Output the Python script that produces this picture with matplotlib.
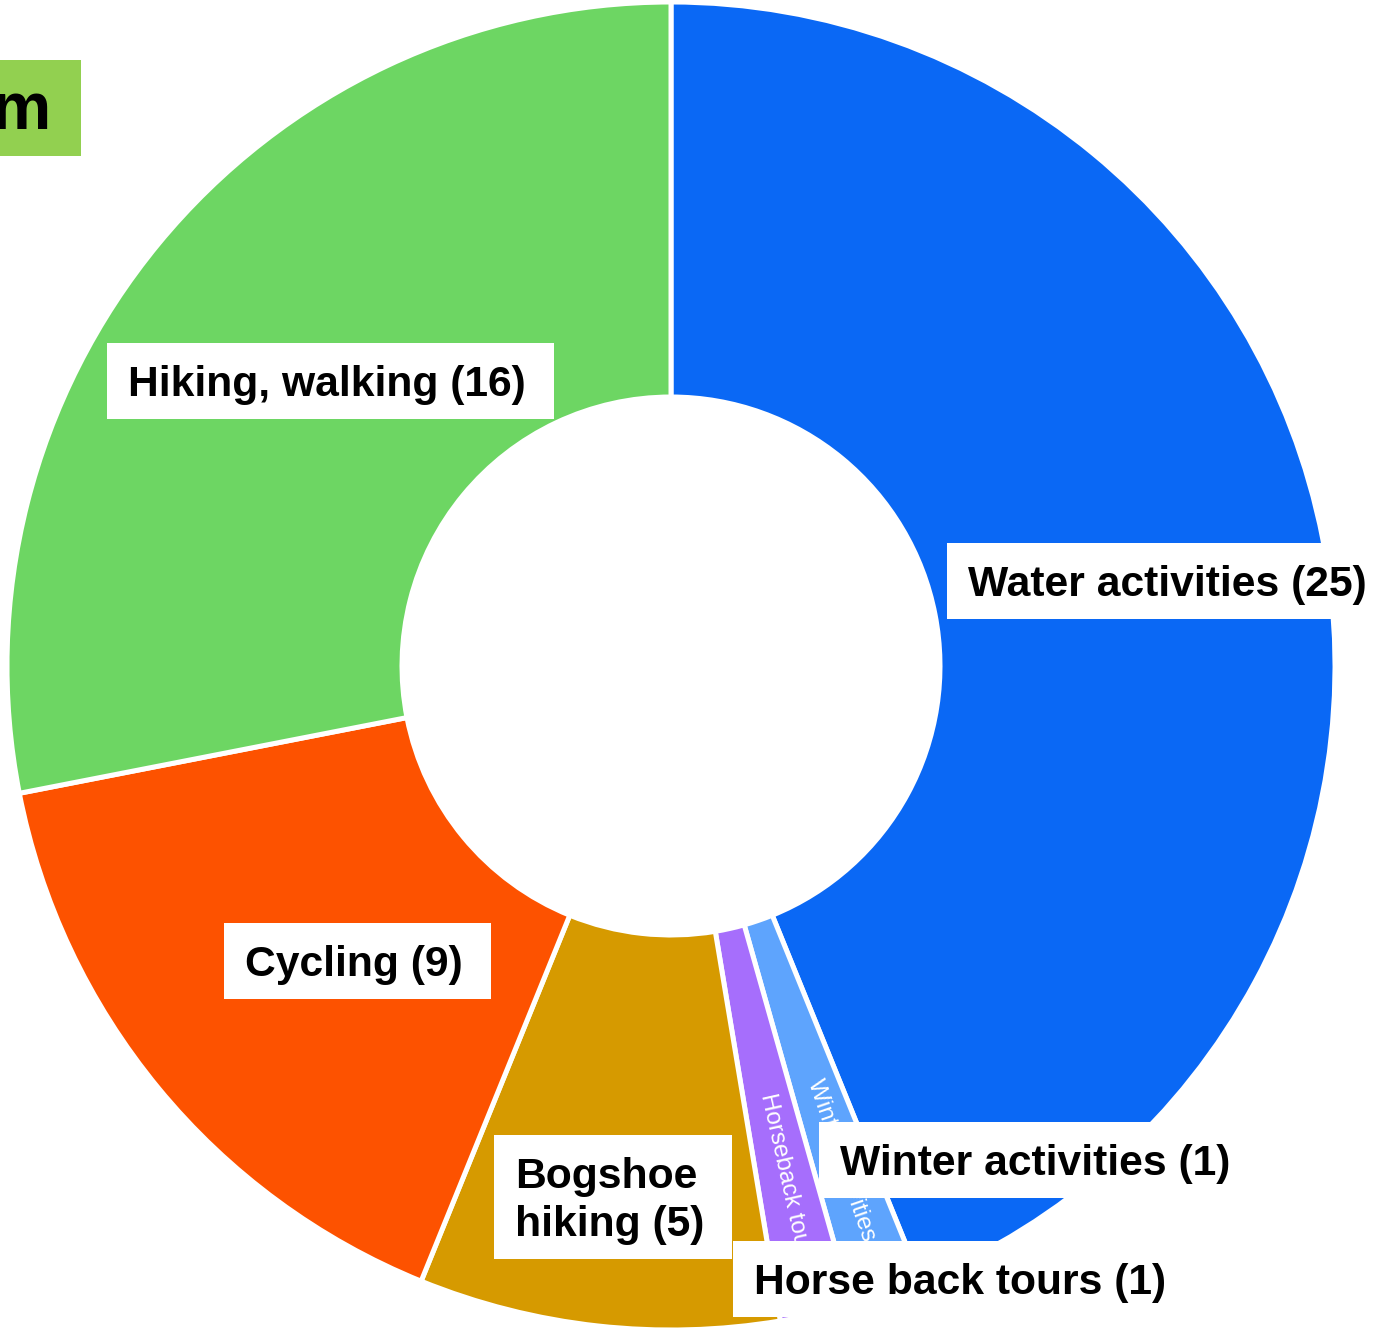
import numpy as np
import matplotlib.pyplot as plt
from matplotlib.patches import Rectangle

plt.rcParams['font.family'] = ['Liberation Sans', 'DejaVu Sans']

# activities and number of offers, clockwise from 12 o'clock
categorias = ['Water activities', 'Winter activities', 'Horseback tours',
              'Bogshoe hiking', 'Cycling', 'Hiking, walking']
valores = [25, 1, 1, 5, 9, 16]
etiquetas = ['Water activities (25)', 'Winter activities (1)', 'Horse back tours (1)',
             'Bogshoe\nhiking (5)', 'Cycling (9)', 'Hiking, walking (16)']
colores = ['#0a68f5', '#5ea4fd', '#a66efc', '#d69a00', '#fd5200', '#6dd663']

W, H = 1374, 1331
fig = plt.figure(figsize=(W / 100, H / 100), dpi=100)
ax = fig.add_axes([0, 0, 1, 1])


def py(y):
    # pixel row (from top) -> axes y
    return H - y


cx, cy = 671, py(666)
r_ext, r_int = 664, 269

ax.pie(valores, colors=colores, startangle=90, counterclock=False,
       center=(cx, cy), radius=r_ext, frame=True,
       wedgeprops=dict(width=r_ext - r_int, edgecolor='white', linewidth=3.6))
ax.set_xlim(0, W)
ax.set_ylim(0, H)
ax.set_aspect('auto')
ax.axis('off')

# small rotated names inside the thin slices
total = sum(valores)
acum = np.cumsum([0] + valores)
for i in (1, 2):
    medio = (acum[i] + acum[i + 1]) / 2 / total * 360
    ang = 90 - medio
    t = np.deg2rad(ang)
    r0 = 438
    ax.text(cx + r0 * np.cos(t), cy + r0 * np.sin(t), categorias[i],
            rotation=ang, rotation_mode='anchor', ha='left', va='center',
            color='white', fontsize=17.5, zorder=3)

# boxed labels: (left of text, vertical centre) in pixel rows
pos_etiquetas = [(968, 585), (840, 1164), (754, 1283),
                 (515, 1201), (245, 965), (128, 385)]

fig.canvas.draw()
ren = fig.canvas.get_renderer()
inv = ax.transData.inverted()
for txt, (x, y) in zip(etiquetas, pos_etiquetas):
    tt = ax.text(x, py(y), txt, fontsize=30.7, fontweight='bold', color='black',
                 ha='left', va='center', linespacing=1.25, zorder=6)
    bb = tt.get_window_extent(renderer=ren)
    (x0, y0), (x1, y1) = inv.transform([(bb.x0, bb.y0), (bb.x1, bb.y1)])
    izq, der, arriba, abajo = 21, 28, 22, 14
    ax.add_patch(Rectangle((x0 - izq, y0 - abajo), (x1 - x0) + izq + der,
                           (y1 - y0) + arriba + abajo, facecolor='white',
                           edgecolor='none', zorder=5))

# title box cut at the left edge
ax.add_patch(Rectangle((-200, py(156)), 281, 96, facecolor='#92d050',
                       edgecolor='none', zorder=5))
ax.text(51, py(129), 'm', fontsize=48, fontweight='bold', color='black',
        ha='right', va='baseline', zorder=6)

fig.savefig('out.png', dpi=100)
